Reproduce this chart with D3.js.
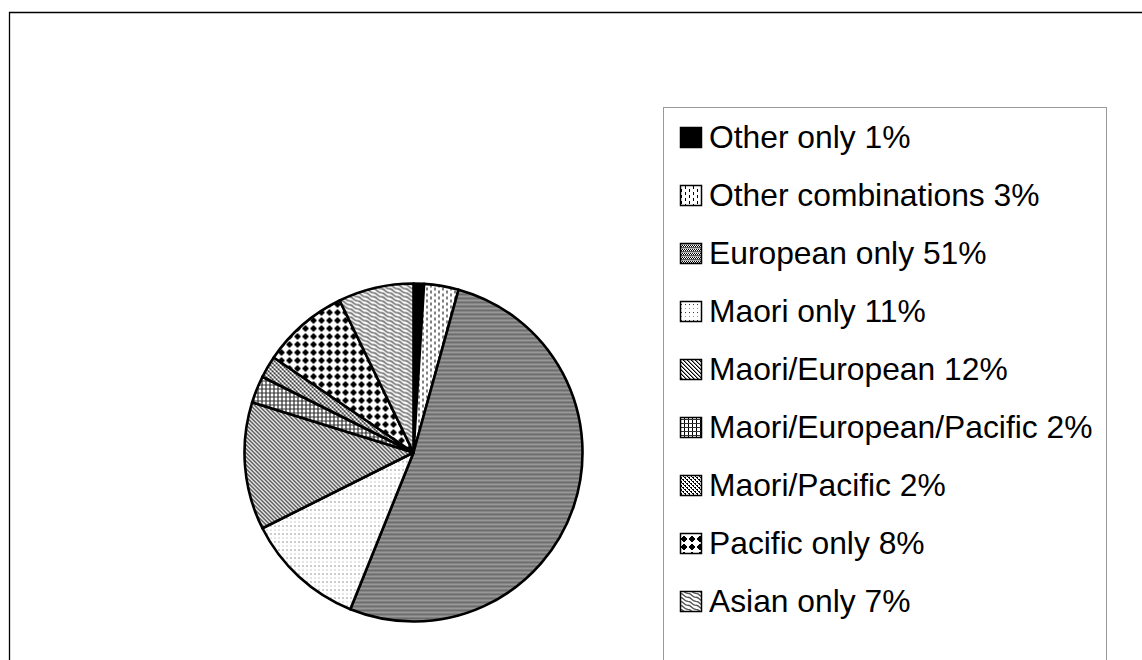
<!DOCTYPE html>
<html>
<head>
<meta charset="utf-8">
<script src="https://cdn.jsdelivr.net/npm/d3@7"></script>
<style>
  html, body { margin: 0; padding: 0; background: #fff; }
  svg { display: block; }
</style>
</head>
<body>
<svg id="chart" width="1142" height="660"></svg>
<script>
// ---- data ----
const categories = ["Other only", "Other combinations", "European only", "Maori only",
  "Maori/European", "Maori/European/Pacific", "Maori/Pacific", "Pacific only", "Asian only"];
const percentLabels = ["1%", "3%", "51%", "11%", "12%", "2%", "2%", "8%", "7%"];
// slice sizes (percent of the circle)
const sliceValues = [1.0, 3.3, 51.8, 11.5, 12.2, 2.6, 2.1, 8.3, 7.2];
const patternIds = ["pOther", "pOtherComb", "pEuro", "pMaori", "pMaoriEuro", "pMEP", "pMaoriPac", "pPacific", "pAsian"];

const svg = d3.select("#chart");
const defs = svg.append("defs");

function pattern(id, w, h, bg) {
  const p = defs.append("pattern").attr("id", id).attr("patternUnits", "userSpaceOnUse")
    .attr("width", w).attr("height", h);
  p.append("rect").attr("width", w).attr("height", h).attr("fill", bg || "#fff");
  return p;
}
function px(p, x, y, w, h, c) {
  p.append("rect").attr("x", x).attr("y", y).attr("width", w).attr("height", h)
    .attr("fill", c).attr("shape-rendering", "crispEdges");
}

// solid black
pattern("pOther", 4, 4, "#000");
// dashed vertical lines
{ const p = pattern("pOtherComb", 8, 6); px(p, 1, 0, 1, 3, "#000"); px(p, 5, 3, 1, 3, "#000"); }
// fine dark checker rows alternating with gray rows
{ const p = pattern("pEuro", 2, 4, "#fff");
  px(p, 0, 0, 1, 1, "#000"); px(p, 1, 1, 1, 1, "#000");
  px(p, 0, 2, 2, 1, "#5a5a5a"); px(p, 0, 3, 2, 1, "#b0b0b0"); }
// sparse dots
{ const p = pattern("pMaori", 4, 8); px(p, 1, 1, 1, 1, "#333"); px(p, 1, 5, 1, 1, "#999"); }
// downward diagonal
{ const p = pattern("pMaoriEuro", 4, 4);
  for (let i = 0; i < 4; i++) { px(p, i, i, 1, 1, "#000"); px(p, (i + 1) % 4, i, 1, 1, "#888"); } }
// grid
{ const p = pattern("pMEP", 4, 4); px(p, 0, 0, 1, 4, "#000"); px(p, 0, 0, 4, 1, "#333"); }
// small confetti
{ const p = pattern("pMaoriPac", 4, 4);
  px(p, 0, 0, 2, 1, "#000"); px(p, 1, 1, 1, 1, "#000"); px(p, 2, 2, 2, 1, "#000"); px(p, 3, 3, 1, 1, "#000"); }
// large diamonds
{ const p = pattern("pPacific", 8, 8);
  px(p, 3, 1, 2, 1, "#000"); px(p, 2, 2, 4, 1, "#000"); px(p, 1, 3, 6, 2, "#000");
  px(p, 2, 5, 4, 1, "#000"); px(p, 3, 6, 2, 1, "#000"); }
// waves
{ const p = pattern("pAsian", 8, 8);
  [0, 4].forEach(o => {
    p.append("path").attr("d", `M-1,${o + 0.5} C1,${o - 0.5} 2,${o + 0.5} 4,${o + 2.5} C6,${o + 4.5} 7,${o + 4.5} 9,${o + 4.5}`)
      .attr("fill", "none").attr("stroke", "#555").attr("stroke-width", 1.3);
    p.append("path").attr("d", `M-1,${o - 7.5} C1,${o - 8.5} 2,${o - 7.5} 4,${o - 5.5} C6,${o - 3.5} 7,${o - 3.5} 9,${o - 3.5}`)
      .attr("fill", "none").attr("stroke", "#555").attr("stroke-width", 1.3);
  });
}

// ---- outer chart frame ----
svg.append("path").attr("d", "M9.5,700 V12.5 H1200")
  .attr("fill", "none").attr("stroke", "#000").attr("stroke-width", 1.3);

// ---- pie ----
const cx = 413.5, cy = 452.5, R = 169;
const pie = d3.pie().sort(null).value(d => d)(sliceValues);
const arc = d3.arc().innerRadius(0).outerRadius(R);
const g = svg.append("g").attr("transform", `translate(${cx},${cy})`);
g.selectAll("path.slice").data(pie).join("path")
  .attr("class", "slice")
  .attr("d", arc)
  .attr("fill", (d, i) => `url(#${patternIds[i]})`)
  .attr("stroke", "#000").attr("stroke-width", 2.6).attr("stroke-linejoin", "round");

// ---- legend ----
svg.append("rect").attr("x", 663.5).attr("y", 107.5).attr("width", 443).attr("height", 600)
  .attr("fill", "none").attr("stroke", "#999").attr("stroke-width", 1);

const legendY = d3.scalePoint().domain(categories).range([137, 601]);
const lg = svg.append("g").selectAll("g").data(categories).join("g")
  .attr("transform", d => `translate(0,${legendY(d)})`);
lg.append("rect").attr("x", 680.5).attr("y", -9.5).attr("width", 21).attr("height", 20)
  .attr("fill", (d, i) => `url(#${patternIds[i]})`).attr("stroke", "#000").attr("stroke-width", 1.5);
lg.append("text").attr("x", 709).attr("y", 0).attr("dy", "0.36em")
  .attr("font-family", "'Liberation Sans', Arial, sans-serif").attr("font-size", 31.8)
  .attr("fill", "#000")
  .text((d, i) => `${d} ${percentLabels[i]}`);
</script>
</body>
</html>
